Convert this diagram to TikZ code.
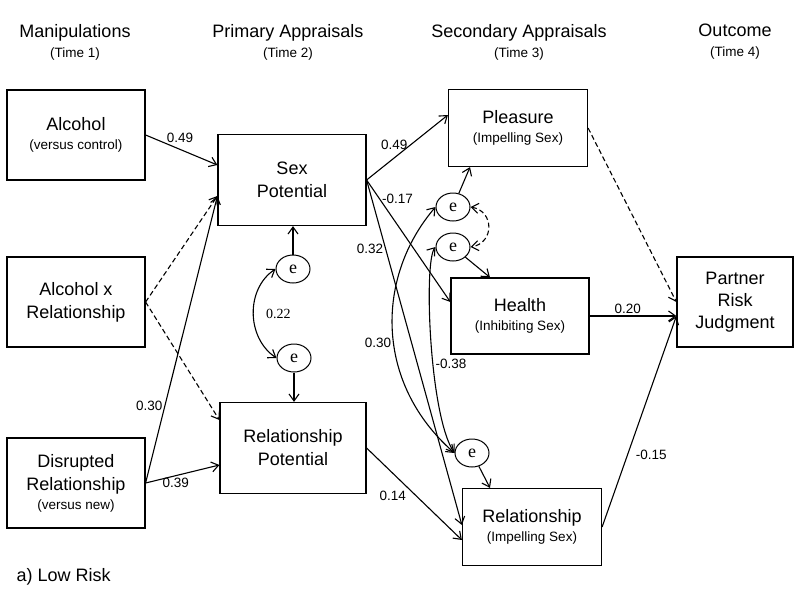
\documentclass[tikz,border=0pt]{standalone}
\usepackage{fontspec}
\setmainfont{Liberation Sans}
\newfontfamily\timesf{Liberation Serif}
\usetikzlibrary{shapes.geometric,arrows.meta}
\newcommand{\subf}{\fontsize{13.5}{16}\selectfont}

\begin{document}
\begin{tikzpicture}[
            x=1pt, y=-1pt,
            >={Straight Barb[length=7pt,width=10pt]},
            every node/.style={align=center},
            box/.style={draw, rectangle, line width=1.2pt, inner sep=0pt, font=\fontsize{18}{23}\selectfont},
            head/.style={font=\fontsize{18}{20}\selectfont},
            err/.style={draw, ellipse, line width=1pt, inner sep=0pt, minimum width=34pt, minimum height=28pt, font=\timesf\fontsize{18}{20}\selectfont},
            lbl/.style={font=\fontsize{13.5}{16}\selectfont, inner sep=2pt},
            lblt/.style={lbl, font=\timesf\fontsize{14}{16}\selectfont},
            link/.style={draw, line width=1.1pt, ->},
            nolink/.style={link, dash pattern=on 5pt off 3pt}]
        \useasboundingbox (0,0) rectangle (800,597);

        \node [head] (hd1) at (75,42) {Manipulations\\{\subf (Time 1)}};
        \node [head] (hd2) at (288,42) {Primary Appraisals\\{\subf (Time 2)}};
        \node [head] (hd3) at (519,42) {Secondary Appraisals\\{\subf (Time 3)}};
        \node [head] (hd4) at (735,42) {Outcome\\{\subf (Time 4)}};
        \node [head, anchor=west] (cap) at (13,577) {a) Low Risk};

        \node [box, minimum width=138pt, minimum height=90pt] (alc) at (76,135) {Alcohol\\[-4pt]{\subf (versus control)}};
        \node [box, minimum width=138pt, minimum height=90pt] (axr) at (76,302) {Alcohol x\\Relationship};
        \node [box, minimum width=138pt, minimum height=90pt] (dis) at (76,483) {Disrupted\\Relationship\\[-4pt]{\subf (versus new)}};
        \node [box, minimum width=148pt, minimum height=91pt] (sexp) at (292,180) {Sex\\Potential};
        \node [box, minimum width=146pt, minimum height=91pt] (relp) at (293,448) {Relationship\\Potential};
        \node [box, minimum width=139pt, minimum height=77pt] (plea) at (518,128) {Pleasure\\[-4pt]{\subf (Impelling Sex)}};
        \node [box, minimum width=138pt, minimum height=76pt] (hlth) at (520,316) {Health\\[-4pt]{\subf (Inhibiting Sex)}};
        \node [box, minimum width=139pt, minimum height=77pt] (rels) at (532,527) {Relationship\\[-4pt]{\subf (Impelling Sex)}};
        \node [box, minimum width=116pt, minimum height=90pt] (prj) at (735,302) {Partner\\[-1pt]Risk\\[-1pt]Judgment};

        \node [err] (e1) at (293,269) {e};
        \node [err] (e2) at (294,358) {e};
        \node [err] (e3) at (453,207) {e};
        \node [err] (e4) at (453,247) {e};
        \node [err] (e5) at (472,453) {e};

        \draw [link] (alc.east) -- node [lbl, pos=0.48, above=4pt] {0.49} ([yshift=15pt]sexp.west);
        \draw [nolink] (axr.east) -- ([yshift=-16pt]sexp.west);
        \draw [nolink] (axr.east) -- ([yshift=28pt]relp.west);
        \draw [link] (dis.east) -- node [lbl, pos=0.27, left] {0.30} ([yshift=-16pt]sexp.west);
        \draw [link] (dis.east) -- node [lbl, pos=0.41, below] {0.39} ([yshift=-17pt]relp.west);

        \draw [link] (e1) -- (e1 |- sexp.south);
        \draw [link] (e2) -- (e2 |- relp.north);
        \draw [link, <->] (e1.west) .. controls +(-30,20) and +(-30,-20) .. node [lblt, right=10pt] {0.22} (e2.west);

        \draw [link] (sexp.east) -- node [lbl, pos=0.34, above=6pt] {0.49} ([yshift=13pt]plea.west);
        \draw [link] (sexp.east) -- node [lbl, pos=0.155, right] {-0.17} ([yshift=14pt]hlth.west);
        \draw [link] (sexp.east) -- node [lbl, pos=0.2, left] {0.32} ([yshift=2pt]rels.west);
        \draw [link] (relp.east) -- node [lbl, pos=0.44, below left] {0.14} ([yshift=-13pt]rels.west);

        \draw [link] (e3) -- ([xshift=-48pt]plea.south);
        \draw [link] (e4) -- ([xshift=-30pt]hlth.north);
        \draw [link] (e5) -- ([xshift=-42pt]rels.north);
        \draw [nolink, <->] (e3.east) .. controls +(24,4) and +(24,-4) .. (e4.east);
        \draw [link, <->] (e3.west) .. controls +(-60,70) and +(-80,-70) .. node [lbl, pos=0.55, left] {0.30} (e5.west);
        \draw [link, <->] (e4.west) .. controls +(-12,15) and +(-25,-37) .. node [lbl, pos=0.58, right] {-0.38} (e5.west);

        \draw [nolink] (plea.east) -- (prj.west);
        \draw [link] (hlth.east) -- node [lbl, pos=0.44, above] {0.20} (hlth.east -| prj.west);
        \draw [link] (rels.east) -- node [lbl, pos=0.34, right=6pt] {-0.15} ([yshift=-14pt]prj.west);
    \end{tikzpicture}
\end{document}
